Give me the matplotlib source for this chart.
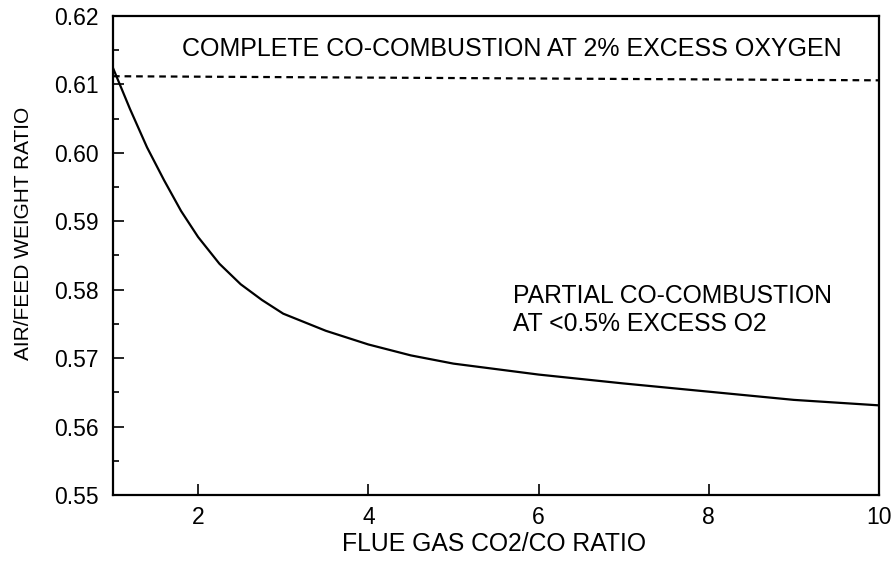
import matplotlib
matplotlib.use("Agg")
import matplotlib.pyplot as plt
from matplotlib.ticker import MultipleLocator

plt.rcParams['font.family'] = ['Liberation Sans', 'DejaVu Sans']

# ratio CO2/CO dans les fumees
co2_co = [1.0, 1.2, 1.4, 1.6, 1.8, 2.0, 2.25, 2.5, 2.75, 3.0, 3.5, 4.0, 4.5, 5.0, 6.0, 7.0, 8.0, 9.0, 10.0]
air_feed = [0.6124, 0.6064, 0.6008, 0.5960, 0.5915, 0.5877, 0.5838, 0.5808, 0.5785, 0.5765,
            0.5740, 0.5720, 0.5704, 0.5692, 0.5676, 0.5663, 0.5651, 0.5639, 0.5631]

# combustion complete a 2% d'oxygene
complete_x = [1.0, 10.0]
complete_y = [0.6112, 0.6106]

fig = plt.figure(figsize=(8.94, 5.66), dpi=100)
ax = fig.add_axes([113 / 894, (566 - 495) / 566, 766 / 894, 479 / 566])

ax.plot(co2_co, air_feed, color="black", lw=1.6)
ax.plot(complete_x, complete_y, color="black", lw=1.6, ls=(0, (3, 2.2)))

ax.set_xlim(1, 10)
ax.set_ylim(0.55, 0.62)
ax.set_xticks([2, 4, 6, 8, 10])
ax.yaxis.set_major_locator(MultipleLocator(0.01))
ax.yaxis.set_minor_locator(MultipleLocator(0.005))
ax.yaxis.set_major_formatter(matplotlib.ticker.FormatStrFormatter("%.2f"))

ax.tick_params(axis="both", which="major", direction="in", length=8, width=1.2, labelsize=16.5)
ax.tick_params(axis="y", which="minor", direction="in", length=4, width=1.2)
ax.tick_params(axis="x", pad=8)
ax.tick_params(axis="y", pad=10)
for s in ax.spines.values():
    s.set_linewidth(1.6)

ax.set_xlabel("FLUE GAS CO2/CO RATIO", fontsize=17.8)
ax.set_ylabel("AIR/FEED WEIGHT RATIO", fontsize=15)
ax.xaxis.set_label_coords(0.497, -0.077)
ax.yaxis.set_label_coords(-0.105, 0.547)

ax.text(1.81, 0.6152, "COMPLETE CO-COMBUSTION AT 2% EXCESS OXYGEN", fontsize=18, va="center")
ax.text(5.7, 0.5770, "PARTIAL CO-COMBUSTION\nAT <0.5% EXCESS O2", fontsize=17.8, va="center",
        linespacing=1.2)

fig.savefig("out.png", dpi=100)
